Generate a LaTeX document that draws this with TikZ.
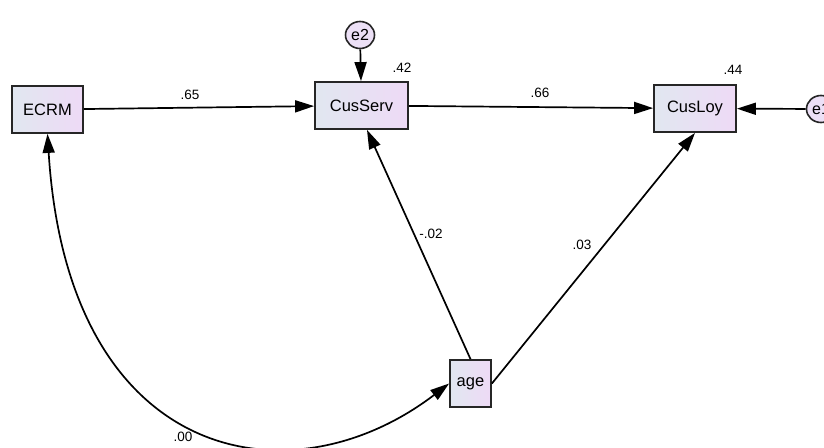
\documentclass[tikz,border=0pt]{standalone}
\usepackage{fontspec}
\setmainfont{Liberation Sans}
\usetikzlibrary{arrows.meta,shapes.geometric}
\definecolor{boxL}{RGB}{225,231,240}
\definecolor{boxR}{RGB}{238,218,246}
\definecolor{errF}{RGB}{236,224,246}
\tikzset{
  varbox/.style={draw=black!85, line width=1.8pt, left color=boxL, right color=boxR,
    minimum height=47pt, inner sep=0pt, font=\fontsize{16.5}{18}\selectfont},
  errcirc/.style={draw=black!85, line width=1.6pt, fill=errF, ellipse, minimum width=29pt,
    minimum height=27pt, inner sep=0pt, font=\fontsize{16}{17}\selectfont},
  path/.style={line width=1.7pt, -{Triangle[length=19pt,width=12pt]}},
  coef/.style={font=\fontsize{13.5}{15}\selectfont, inner sep=0pt}
}
\begin{document}
\begin{tikzpicture}[x=1pt,y=-1pt]
\useasboundingbox (0,0) rectangle (824,447);
\fill[white] (0,0) rectangle (824,447);
\node[varbox, minimum width=71pt] (ECRM) at (47.5,109.5) {ECRM};
\node[varbox, minimum width=93pt] (CusServ) at (361.5,105.5) {CusServ};
\node[varbox, minimum width=82pt] (CusLoy) at (695,108.5) {CusLoy};
\node[varbox, minimum width=41pt] (age) at (470.5,383.5) {age};
\node[errcirc] (e2) at (360,35) {e2};
\node[errcirc] (e1) at (821,109) {e1};
\draw[path] (ECRM) -- (CusServ);
\draw[path] (CusServ) -- (CusLoy);
\draw[path] (e2) -- (CusServ);
\draw[path] (e1) -- (CusLoy);
\draw[path] (age.north) -- ([xshift=5.5pt]CusServ.south);
\draw[path] (age.east) -- (CusLoy.south);
\draw[line width=1.7pt, {Triangle[length=19pt,width=12pt]}-{Triangle[length=19pt,width=12pt]}]
  (ECRM.south) .. controls (68,464) and (290,505) .. (age.west);
\node[coef] (l65) at (190,95) {.65};
\node[coef] (l66) at (540,93) {.66};
\node[coef] (l42) at (402,68) {.42};
\node[coef] (l44) at (733,70) {.44};
\node[coef] (l02) at (431,234) {-.02};
\node[coef] (l03) at (582,245) {.03};
\node[coef] (l00) at (183,437) {.00};
\end{tikzpicture}
\end{document}
